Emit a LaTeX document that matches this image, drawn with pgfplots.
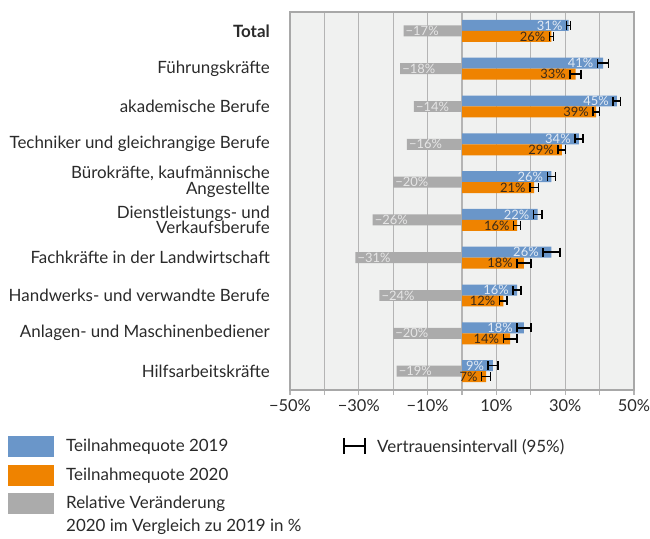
\documentclass[border=0pt]{standalone}
\usepackage{fontspec}
\setmainfont{Lato}
\usepackage{pgfplots}
\usepackage{pgfplotstable}
\pgfplotsset{compat=1.18}
\definecolor{cblue}{HTML}{6A96C9}
\definecolor{corange}{HTML}{EF8300}
\definecolor{cgray}{HTML}{ABABAB}
\definecolor{cbg}{HTML}{F0F1F0}
\definecolor{cgrid}{HTML}{B4B4B4}
\definecolor{cframe}{HTML}{A8A8A8}
\definecolor{ctext}{HTML}{2A2A2A}
\definecolor{clblue}{HTML}{E2EAF4}
\definecolor{clgray}{HTML}{E6E6E6}
\definecolor{cdorange}{HTML}{3A2A1A}

\pgfplotstableread{
y x e
-0.145 31 0.6
0.855 41 1.6
1.855 45 1.1
2.855 34 1.2
3.855 26 1.2
4.855 22 1.2
5.855 26 2.5
6.855 16 1.2
7.855 18 2.0
8.855 9 1.4
}\tblue
\pgfplotstableread{
y x e
0.145 26 0.6
1.145 33 1.6
2.145 39 0.9
3.145 29 1.1
4.145 21 1.3
5.145 16 1.0
6.145 18 2.0
7.145 12 1.1
8.145 14 2.0
9.145 7 1.3
}\torange
\pgfplotstableread{
y x a
0 -17 17
1 -18 18
2 -14 14
3 -16 16
4 -20 20
5 -26 26
6 -31 31
7 -24 24
8 -20 20
9 -19 19
}\tgray

\begin{document}
\begin{tikzpicture}[x=1bp,y=1bp]
\useasboundingbox (-290,-149) rectangle (360,390);
\begin{axis}[
  at={(0,0)}, anchor=south west,
  scale only axis, width=344bp, height=378bp,
  xmin=-50, xmax=50, ymin=-0.5, ymax=9.5, y dir=reverse,
  axis background/.style={fill=cbg},
  axis line style={draw=cframe, line width=1.3bp},
  xtick={-50,-30,-10,10,30,50},
  xticklabels={−50\%,−30\%,−10\%,10\%,30\%,50\%},
  minor xtick={-40,-20,0,20,40},
  xmajorgrids, xminorgrids,
  grid style={draw=cgrid, line width=1.2bp},
  major grid style={draw=cgrid, line width=1.2bp},
  minor grid style={draw=cgrid, line width=1.2bp},
  tick align=outside, xtick pos=bottom,
  major tick length=5bp, minor tick length=5bp,
  xtick style={draw=cgrid, line width=1.2bp},
  ytick={0,...,9},
  yticklabels={\textbf{Total},Führungskräfte,akademische Berufe,Techniker und gleichrangige Berufe,{Bürokräfte, kaufmännische\\Angestellte},{Dienstleistungs- und\\Verkaufsberufe},Fachkräfte in der Landwirtschaft,Handwerks- und verwandte Berufe,Anlagen- und Maschinenbediener,Hilfsarbeitskräfte},
  ytick style={draw=none},
  yticklabel style={align=right, font=\fontsize{17}{15.7}\selectfont, text=ctext, inner sep=0pt, xshift=-15bp},
  xticklabel style={font=\fontsize{16.5}{18}\selectfont, text=ctext, yshift=-1bp},
  clip=false,
]
% gray bars
\addplot[xbar, bar width=0.29, bar shift=0pt, fill=cgray, draw=none] table[x=x,y=y]{\tgray};
% blue bars
\addplot[xbar, bar width=0.29, bar shift=0pt, fill=cblue, draw=none,
  error bars/.cd, x dir=both, x explicit,
  error bar style={draw=black, line width=1.5bp},
  error mark options={draw=black, rotate=90, mark size=4.5bp, line width=1.5bp}]
  table[x=x,y=y,x error=e]{\tblue};
% orange bars
\addplot[xbar, bar width=0.29, bar shift=0pt, fill=corange, draw=none,
  error bars/.cd, x dir=both, x explicit,
  error bar style={draw=black, line width=1.5bp},
  error mark options={draw=black, rotate=90, mark size=4.5bp, line width=1.5bp}]
  table[x=x,y=y,x error=e]{\torange};
% labels
\addplot[draw=none, mark=none, point meta=explicit symbolic,
  nodes near coords={−\pgfplotspointmeta\%},
  every node near coord/.append style={anchor=west, inner sep=0pt, xshift=2bp, text=clgray, font=\fontsize{13}{14}\selectfont}]
  table[x=x,y=y,meta=a]{\tgray};
\addplot[draw=none, mark=none, point meta=explicit symbolic,
  nodes near coords={\pgfplotspointmeta\%},
  every node near coord/.append style={anchor=east, inner sep=0pt, xshift=-4bp, text=clblue, font=\fontsize{13}{14}\selectfont}]
  table[x expr=\thisrow{x}-\thisrow{e},y=y,meta=x]{\tblue};
\addplot[draw=none, mark=none, point meta=explicit symbolic,
  nodes near coords={\pgfplotspointmeta\%},
  every node near coord/.append style={anchor=east, inner sep=0pt, xshift=-4bp, text=cdorange, font=\fontsize{13}{14}\selectfont}]
  table[x expr=\thisrow{x}-\thisrow{e},y=y,meta=x]{\torange};
\end{axis}
% legend
\begin{scope}[every node/.style={anchor=west, inner sep=0pt, text=ctext, font=\fontsize{17}{23}\selectfont}]
\fill[cblue] (-282,-46) rectangle (-236,-67);
\node at (-224,-57) {Teilnahmequote 2019};
\fill[corange] (-282,-75) rectangle (-236,-96);
\node at (-224,-86) {Teilnahmequote 2020};
\fill[cgray] (-282,-103) rectangle (-236,-124);
\node at (-224,-114) {Relative Veränderung};
\node at (-224,-137) {2020 im Vergleich zu 2019 in \%};
\draw[line width=1.4bp, black] (54,-56) -- (75,-56);
\draw[line width=1.4bp, black] (54,-48) -- (54,-64);
\draw[line width=1.4bp, black] (75,-48) -- (75,-64);
\node at (87,-57) {Vertrauensintervall (95\%)};
\end{scope}
\end{tikzpicture}
\end{document}
